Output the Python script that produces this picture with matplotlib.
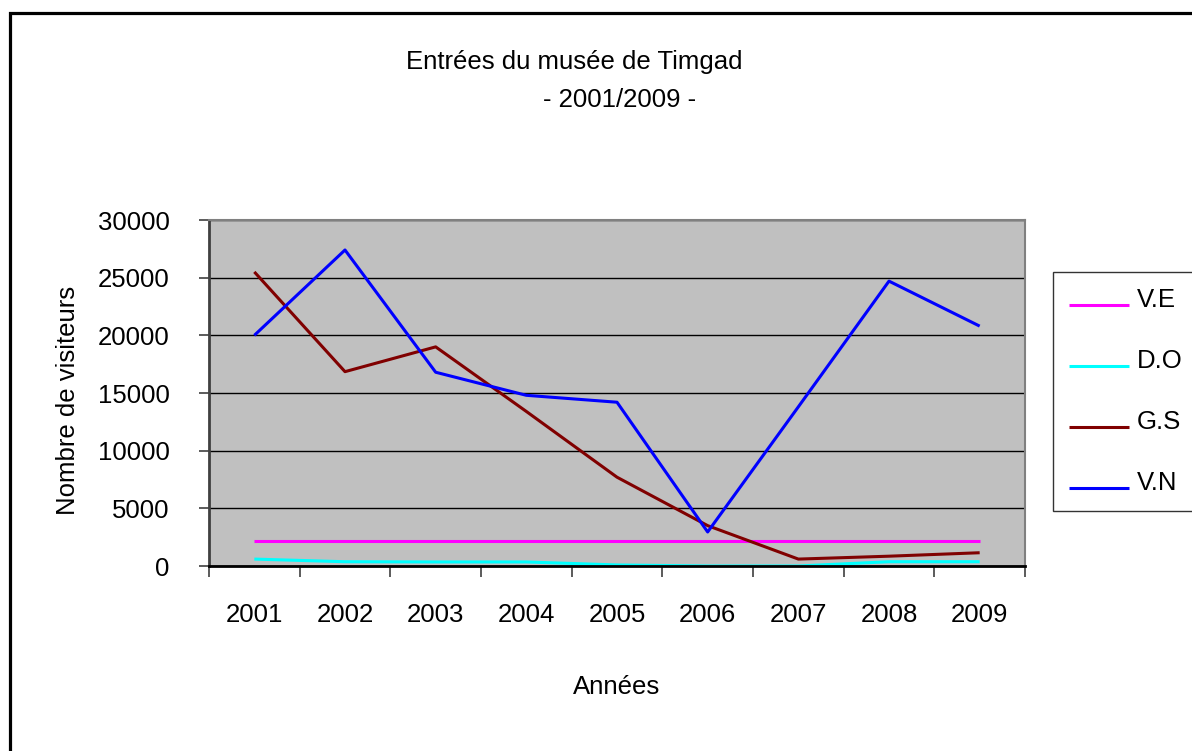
import numpy as np
import matplotlib
matplotlib.use("Agg")
import matplotlib.pyplot as plt
from matplotlib.patches import Rectangle
from matplotlib.transforms import ScaledTranslation

plt.rcParams['font.family'] = ['Liberation Sans', 'DejaVu Sans']

years = ['2001', '2002', '2003', '2004', '2005', '2006', '2007', '2008', '2009']
ve = [2150, 2150, 2150, 2150, 2150, 2150, 2150, 2150, 2150]
do = [600, 370, 350, 350, 90, 0, 0, 370, 370]
gs = [25500, 16850, 19000, 13400, 7700, 3500, 600, 850, 1150]
vn = [20000, 27400, 16800, 14800, 14200, 2950, 13800, 24700, 20800]
yticks = [0, 5000, 10000, 15000, 20000, 25000, 30000]

W, H = 1192, 751
fig = plt.figure(figsize=(W / 100, H / 100), dpi=100)

# outer chart frame (cut by the image edge on the right and bottom)
fig.patches.append(Rectangle((9.5 / W, -0.1), 1.2, 1 - 12.5 / H + 0.1,
                             transform=fig.transFigure, fill=False,
                             edgecolor='black', linewidth=2.3))

ax = fig.add_axes([209 / W, 1 - 566 / H, (1025 - 209) / W, 346 / H])
ax.set_facecolor('#C0C0C0')

x = np.arange(len(years))
ax.plot(x, ve, color='#FF00FF', lw=2.2, label='V.E', solid_capstyle='butt')
ax.plot(x, do, color='#00FFFF', lw=2.2, label='D.O', solid_capstyle='butt')
ax.plot(x, gs, color='#800000', lw=2.2, label='G.S', solid_capstyle='butt')
ax.plot(x, vn, color='#0000FF', lw=2.2, label='V.N', solid_capstyle='butt')

ax.set_xlim(-0.5, len(years) - 0.5)
ax.set_ylim(0, 30000)
ax.set_yticks(yticks)
ax.set_yticklabels([str(v) for v in yticks])
ax.yaxis.grid(True, color='black', lw=1)
ax.set_axisbelow(True)

ax.set_xticks(np.arange(-0.5, len(years), 1))
ax.set_xticklabels([])
ax.set_xticks(x, minor=True)
ax.set_xticklabels(years, minor=True)
ax.tick_params(axis='x', which='major', direction='out', length=8, width=1.2, color='#404040')
ax.tick_params(axis='x', which='minor', length=0, pad=27, labelsize=18.5)
ax.tick_params(axis='y', direction='out', length=7.5, width=1.2, color='#404040', pad=21, labelsize=18.5)

for side in ['top', 'right']:
    ax.spines[side].set_color('#808080')
    ax.spines[side].set_linewidth(1.5)
ax.spines['left'].set_color('#404040')
ax.spines['left'].set_linewidth(2)
ax.spines['bottom'].set_color('black')
ax.spines['bottom'].set_linewidth(2)

ax.set_xlabel('Années', fontsize=18.5, labelpad=34)
ax.set_ylabel('Nombre de visiteurs', fontsize=18.5)
ax.yaxis.set_label_coords((80 - 209) / 816, (566 - 400) / 346)

fig.text(574 / W, 1 - 62 / H, 'Entrées du musée de Timgad', fontsize=18.5,
         ha='center', va='center')
fig.text(620 / W, 1 - 100 / H, '- 2001/2009 -', fontsize=18.5,
         ha='center', va='center')

leg = ax.legend(loc='upper left', bbox_to_anchor=(1053 / W, 1 - 272 / H),
                bbox_transform=fig.transFigure, borderaxespad=0,
                fontsize=18.5, frameon=True, fancybox=False, edgecolor='black',
                labelspacing=1.44, handlelength=2.35, handletextpad=0.28,
                borderpad=0.62)
leg.get_frame().set_linewidth(1)
# Excel draws the legend keys a little below the middle of the text
shift = ScaledTranslation(0, -7 / 100, fig.dpi_scale_trans)
for line in leg.get_lines():
    line.set_linewidth(2.2)
    line.set_transform(line.get_transform() + shift)

fig.savefig('out.png', dpi=100)
